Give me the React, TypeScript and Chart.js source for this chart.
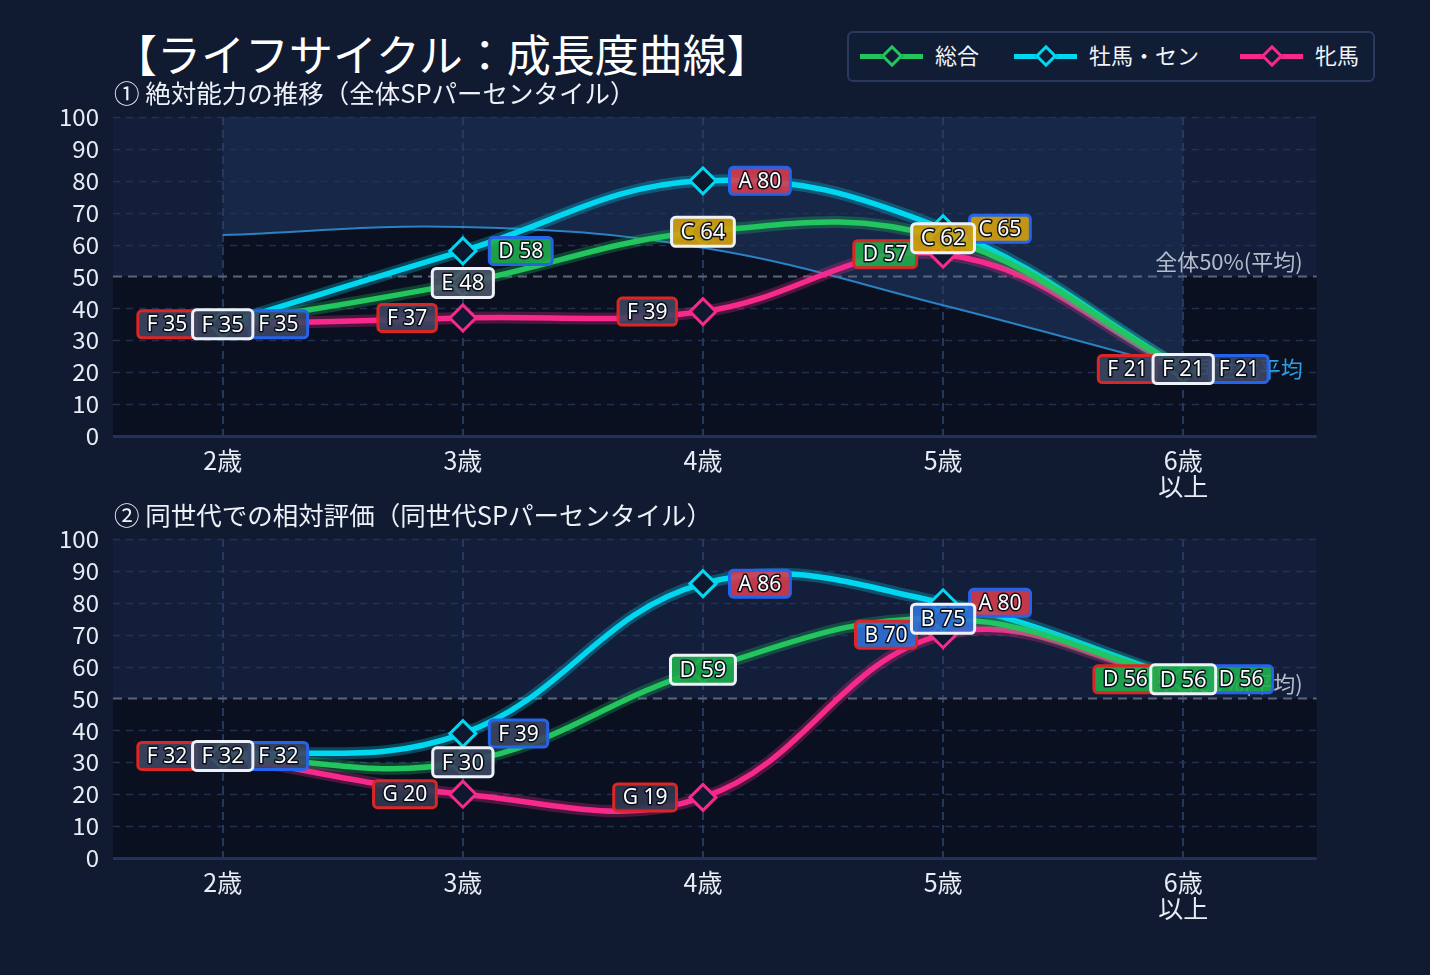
import React, { useEffect, useRef } from 'react';
import { Chart, registerables } from 'chart.js';

Chart.register(...registerables);

const FONT_JP = '"Noto Sans CJK JP", "Noto Sans", sans-serif';
const FONT_TAG = '"Noto Sans", "Noto Sans CJK JP", sans-serif';

// age buckets on the x axis
const ageValues = [2, 3, 4, 5, 6];
const ageLabels: (string | string[])[] = ['2歳', '3歳', '4歳', '5歳', ['6歳', '以上']];
const yTickValues = [0, 10, 20, 30, 40, 50, 60, 70, 80, 90, 100];

// ① 絶対能力の推移（全体SPパーセンタイル）
const absoluteTotal = [35, 48, 64, 62, 21];
const absoluteColt = [35, 58, 80, 65, 21];
const absoluteFilly = [35, 37, 39, 57, 21];
const peerAverage = [63, 65.5, 59, 41, 21];

// ② 同世代での相対評価（同世代SPパーセンタイル）
const relativeTotal = [32, 30, 59, 75, 56];
const relativeColt = [32, 39, 86, 80, 56];
const relativeFilly = [32, 20, 19, 70, 56];

const seriesNames = ['総合', '牡馬・セン', '牝馬'];
const seriesColors = ['#22c55e', '#00d8f2', '#f72a8c'];
const seriesHalo = ['rgba(34,197,94,0.28)', 'rgba(0,216,242,0.28)', 'rgba(247,42,140,0.28)'];
const tagBorders = ['#eef2f8', '#2563eb', '#dc2626'];
const tagPlacement = ['center', 'right', 'left'];

const gradeFills: Record<string, string> = {
  A: '#d63b4b',
  B: '#2f70d8',
  C: '#d6a20c',
  D: '#1fae4e',
  E: '#4a5568',
  F: '#3b4660',
  G: '#2f3850',
};

const PAGE_BG = '#101a31';
const PLOT_DARK = '#0a1020';
const PLOT_MID = '#131e3a';
const PLOT_LIGHT = '#172748';

function gradeOf(v: number): string {
  if (v >= 80) return 'A';
  if (v >= 70) return 'B';
  if (v >= 60) return 'C';
  if (v >= 50) return 'D';
  if (v >= 40) return 'E';
  if (v > 20) return 'F';
  return 'G';
}

function drawTag(
  ctx: CanvasRenderingContext2D,
  px: number,
  py: number,
  value: number,
  border: string,
  place: string,
) {
  const text = `${gradeOf(value)} ${value}`;
  const center = place === 'center';
  ctx.font = `${center ? 22 : 21}px ${FONT_TAG}`;
  const tw = ctx.measureText(text).width;
  const w = tw + 18;
  const h = center ? 29 : 27;
  let x: number;
  if (place === 'left') x = px - 26.5 - w;
  else if (place === 'right') x = px + 26.5;
  else x = px - w / 2;
  const y = py - h / 2;
  ctx.save();
  ctx.beginPath();
  ctx.roundRect(x, y, w, h, 4);
  ctx.globalAlpha = 0.9;
  ctx.fillStyle = gradeFills[gradeOf(value)];
  ctx.fill();
  ctx.globalAlpha = 1;
  ctx.lineWidth = 3;
  ctx.strokeStyle = border;
  ctx.stroke();
  ctx.textAlign = 'center';
  ctx.textBaseline = 'middle';
  ctx.lineJoin = 'round';
  ctx.lineWidth = 3;
  ctx.strokeStyle = 'rgba(10,14,26,0.95)';
  ctx.strokeText(text, x + w / 2, py + 1);
  ctx.fillStyle = '#ffffff';
  ctx.fillText(text, x + w / 2, py + 1);
  ctx.restore();
}

type PanelProps = {
  top: number;
  series: number[][];
  peer?: number[];
};

function makeDecorPlugin(hasPeer: boolean) {
  return {
    id: 'lifecycleDecor',
    beforeDraw(chart: any) {
      const { ctx, chartArea: a, scales } = chart;
      const ys = scales.y;
      const xs = scales.x;
      const y50 = ys.getPixelForValue(50);
      ctx.save();
      ctx.fillStyle = PLOT_DARK;
      ctx.fillRect(a.left, a.top, a.right - a.left, a.bottom - a.top);
      ctx.fillStyle = PLOT_MID;
      ctx.fillRect(a.left, a.top, a.right - a.left, y50 - a.top);

      if (hasPeer) {
        const meta = chart.getDatasetMeta(3);
        const pts = meta.data;
        const x0 = pts[0].x;
        const x1 = pts[pts.length - 1].x;
        ctx.beginPath();
        meta.dataset.path(ctx);
        ctx.lineTo(x1, a.top);
        ctx.lineTo(x0, a.top);
        ctx.closePath();
        ctx.fillStyle = PLOT_LIGHT;
        ctx.fill();
        ctx.beginPath();
        meta.dataset.path(ctx);
        ctx.lineTo(x1, a.bottom);
        ctx.lineTo(x0, a.bottom);
        ctx.closePath();
        ctx.fillStyle = PLOT_DARK;
        ctx.fill();
      }

      // horizontal grid
      ctx.lineWidth = 1.5;
      ctx.strokeStyle = 'rgba(36,52,88,0.9)';
      ctx.setLineDash([7, 6]);
      for (const v of yTickValues) {
        if (v === 0 || v === 50) continue;
        const py = Math.round(ys.getPixelForValue(v)) + 0.5;
        ctx.beginPath();
        ctx.moveTo(a.left, py);
        ctx.lineTo(a.right, py);
        ctx.stroke();
      }
      // vertical grid
      ctx.lineWidth = 2;
      ctx.strokeStyle = 'rgba(40,58,96,0.95)';
      ctx.setLineDash([8, 5]);
      for (const v of ageValues) {
        const px = Math.round(xs.getPixelForValue(v));
        ctx.beginPath();
        ctx.moveTo(px, a.top);
        ctx.lineTo(px, a.bottom);
        ctx.stroke();
      }
      ctx.setLineDash([]);
      // bottom axis line
      ctx.lineWidth = 3;
      ctx.strokeStyle = '#22325a';
      ctx.beginPath();
      ctx.moveTo(a.left, a.bottom + 0.5);
      ctx.lineTo(a.right, a.bottom + 0.5);
      ctx.stroke();
      ctx.restore();
    },
    beforeDatasetsDraw(chart: any) {
      const { ctx, chartArea: a, scales } = chart;
      const y50 = scales.y.getPixelForValue(50);
      ctx.save();
      ctx.lineWidth = 2;
      ctx.strokeStyle = '#5b6579';
      ctx.setLineDash([9, 6]);
      ctx.beginPath();
      ctx.moveTo(a.left, y50);
      ctx.lineTo(a.right, y50);
      ctx.stroke();
      ctx.setLineDash([]);
      ctx.font = `22px ${FONT_JP}`;
      ctx.textAlign = 'right';
      ctx.textBaseline = 'middle';
      ctx.fillStyle = '#b4bccb';
      ctx.fillText('全体50%(平均)', a.right - 14, y50 - 15);
      if (hasPeer) {
        const pts = chart.getDatasetMeta(3).data;
        const last = pts[pts.length - 1];
        ctx.fillStyle = '#2c9fe0';
        ctx.fillText('同世代平均', a.right - 14, last.y);
      }
      ctx.restore();
    },
    beforeDatasetDraw(chart: any, args: any) {
      if (args.index > 2) return;
      const { ctx } = chart;
      const meta = args.meta;
      ctx.save();
      ctx.lineWidth = 12;
      ctx.lineJoin = 'round';
      ctx.lineCap = 'round';
      ctx.strokeStyle = seriesHalo[args.index];
      ctx.beginPath();
      meta.dataset.path(ctx);
      ctx.stroke();
      ctx.restore();
    },
    afterDatasetsDraw(chart: any) {
      const { ctx } = chart;
      for (const idx of [2, 1, 0]) {
        const meta = chart.getDatasetMeta(idx);
        const values = chart.data.datasets[idx].data;
        meta.data.forEach((pt: any, i: number) => {
          drawTag(ctx, pt.x, pt.y, values[i].y, tagBorders[idx], tagPlacement[idx]);
        });
      }
    },
  };
}

function Panel({ top, series, peer }: PanelProps) {
  const ref = useRef<HTMLCanvasElement | null>(null);

  useEffect(() => {
    if (!ref.current) return;
    const datasets: any[] = series.map((vals, i) => ({
      label: seriesNames[i],
      data: vals.map((v, k) => ({ x: ageValues[k], y: v })),
      borderColor: seriesColors[i],
      borderWidth: 5.5,
      tension: 0.4,
      pointStyle: 'rectRot',
      pointRadius: 13,
      pointBorderWidth: 3,
      pointBorderColor: seriesColors[i],
      pointBackgroundColor: '#0e1930',
      fill: false,
      order: 0,
    }));
    if (peer) {
      datasets.push({
        label: '同世代平均',
        data: peer.map((v, k) => ({ x: ageValues[k], y: v })),
        borderColor: '#2a82c2',
        borderWidth: 2,
        tension: 0.4,
        pointRadius: 0,
        fill: false,
        order: 1,
      });
    }

    const chart = new Chart(ref.current, {
      type: 'line',
      data: { datasets },
      plugins: [makeDecorPlugin(!!peer)],
      options: {
        responsive: false,
        animation: false,
        devicePixelRatio: 1,
        layout: { padding: { top: 17, right: 113.3, left: 0, bottom: 0 } },
        plugins: {
          legend: { display: false },
          tooltip: { enabled: false },
        },
        scales: {
          x: {
            type: 'linear',
            min: 1.543,
            max: 6.556,
            grid: { display: false, drawTicks: false },
            border: { display: false },
            afterBuildTicks: (scale: any) => {
              scale.ticks = ageValues.map((v) => ({ value: v }));
            },
            afterFit: (scale: any) => {
              scale.height = 84;
              scale.paddingLeft = 0;
              scale.paddingRight = 0;
            },
            ticks: {
              color: '#e8edf5',
              font: { size: 25, family: FONT_JP, lineHeight: 1.05 },
              padding: 11,
              maxRotation: 0,
              autoSkip: false,
              callback: (_v: any, i: number) => ageLabels[i],
            },
          },
          y: {
            min: 0,
            max: 100,
            grid: { display: false, drawTicks: false },
            border: { display: false },
            afterFit: (scale: any) => {
              scale.width = 113;
              scale.paddingTop = 0;
              scale.paddingBottom = 0;
            },
            ticks: {
              stepSize: 10,
              color: '#e8edf5',
              font: { size: 24, family: FONT_JP },
              padding: 14,
            },
          },
        },
      } as any,
    });
    return () => chart.destroy();
  }, []);

  return (
    <canvas
      ref={ref}
      width={1430}
      height={420}
      style={{ position: 'absolute', left: 0, top, width: 1430, height: 420 }}
    />
  );
}

function LegendItem({ x, color, label }: { x: number; color: string; label: string }) {
  return (
    <>
      <div
        style={{
          position: 'absolute',
          left: x,
          top: 53.5,
          width: 63,
          height: 5,
          background: color,
        }}
      />
      <div
        style={{
          position: 'absolute',
          left: x + 31.5 - 8,
          top: 56 - 8,
          width: 16,
          height: 16,
          boxSizing: 'border-box',
          border: `3px solid ${color}`,
          background: '#111c35',
          transform: 'rotate(45deg)',
        }}
      />
      <div
        style={{
          position: 'absolute',
          left: x + 75,
          top: 40,
          fontSize: 22,
          lineHeight: '28px',
          color: '#f2f5fa',
          whiteSpace: 'nowrap',
        }}
      >
        {label}
      </div>
    </>
  );
}

export default function App() {
  return (
    <div
      style={{
        position: 'fixed',
        left: 0,
        top: 0,
        width: 1430,
        height: 975,
        background: PAGE_BG,
        fontFamily: FONT_JP,
        color: '#ffffff',
        overflow: 'hidden',
      }}
    >
      <Panel top={100} series={[absoluteTotal, absoluteColt, absoluteFilly]} peer={peerAverage} />
      <Panel top={522} series={[relativeTotal, relativeColt, relativeFilly]} />

      <div
        style={{
          position: 'absolute',
          left: 113,
          top: 29,
          fontSize: 44,
          lineHeight: '48px',
          whiteSpace: 'nowrap',
          color: '#ffffff',
        }}
      >
        【ライフサイクル：成長度曲線】
      </div>
      <div
        style={{
          position: 'absolute',
          left: 114,
          top: 77,
          fontSize: 25.5,
          lineHeight: '30px',
          whiteSpace: 'nowrap',
          color: '#eef2f8',
        }}
      >
        ① 絶対能力の推移（全体SPパーセンタイル）
      </div>
      <div
        style={{
          position: 'absolute',
          left: 114,
          top: 499,
          fontSize: 25.5,
          lineHeight: '30px',
          whiteSpace: 'nowrap',
          color: '#eef2f8',
        }}
      >
        ② 同世代での相対評価（同世代SPパーセンタイル）
      </div>

      <div
        style={{
          position: 'absolute',
          left: 847,
          top: 31,
          width: 528,
          height: 51,
          boxSizing: 'border-box',
          border: '2px solid #2a3a5c',
          borderRadius: 6,
          background: '#111c35',
        }}
      />
      <LegendItem x={860} color={seriesColors[0]} label={seriesNames[0]} />
      <LegendItem x={1014} color={seriesColors[1]} label={seriesNames[1]} />
      <LegendItem x={1240} color={seriesColors[2]} label={seriesNames[2]} />
    </div>
  );
}
